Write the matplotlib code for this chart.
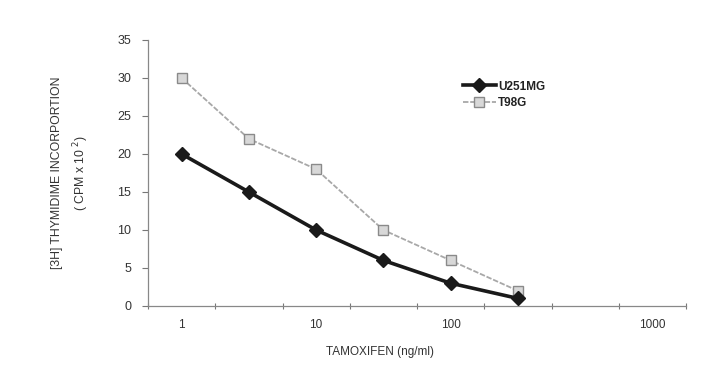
import matplotlib
matplotlib.use("Agg")
import matplotlib.pyplot as plt
from matplotlib.lines import Line2D

plt.rcParams['font.family'] = ['Liberation Sans', 'DejaVu Sans']

categories = ["1", "", "10", "", "100", "", "", "1000"]
u251mg = [20, 15, 10, 6, 3, 1]
t98g = [30, 22, 18, 10, 6, 2]
yticks = [0, 5, 10, 15, 20, 25, 30, 35]

fig = plt.figure(figsize=(7.09, 3.75), dpi=100)
fig.patch.set_facecolor('white')
ax = fig.add_axes([148/709, 1-306/375, (686-148)/709, (306-40)/375])

xs_u = list(range(len(u251mg)))
xs_t = list(range(len(t98g)))

ax.plot(xs_t, t98g, color='#a8a8a8', lw=1.3, ls=(0, (3, 1)), marker='s', ms=7,
        mfc='#d8d8d8', mec='#8a8a8a', mew=1.0, label='T98G', zorder=2)
ax.plot(xs_u, u251mg, color='#1a1a1a', lw=2.6, marker='D', ms=7.5,
        mfc='#1a1a1a', mec='#1a1a1a', label='U251MG', zorder=3)

ax.set_xlim(-0.5, len(categories) - 0.5)
ax.set_ylim(0, 35)
ax.set_yticks(yticks)
ax.set_xticks(range(len(categories)))
ax.set_xticklabels(categories)
ax.set_xticks([i + 0.5 for i in range(-1, len(categories))], minor=True)
ax.tick_params(axis='x', which='major', length=0, pad=9, labelsize=8.5, colors='#333333')
ax.tick_params(axis='x', which='minor', length=4, width=0.8, direction='inout', color='#777777')
ax.tick_params(axis='y', length=4, width=0.8, direction='out', color='#777777', labelsize=9, colors='#333333', pad=8)

for s in ['top', 'right']:
    ax.spines[s].set_visible(False)
for s in ['left', 'bottom']:
    ax.spines[s].set_color('#888888')
    ax.spines[s].set_linewidth(0.9)

ax.set_xlabel('TAMOXIFEN (ng/ml)', fontsize=8.5, color='#333333')
ax.xaxis.set_label_coords((380-148)/538, -0.15)
ax.set_ylabel('[3H] THYMIDIME INCORPORTION\n( CPM x 10 $^{2}$)', fontsize=8.8,
              color='#333333', linespacing=1.6)
ax.yaxis.set_label_coords(-(148-91)/538, 0.5)

handles = [
    Line2D([], [], color='#1a1a1a', lw=2.6, marker='D', ms=7.5, mfc='#1a1a1a', mec='#1a1a1a'),
    Line2D([], [], color='#a8a8a8', lw=1.3, ls=(0, (3, 1)), marker='s', ms=7,
           mfc='#d8d8d8', mec='#8a8a8a'),
]
leg = ax.legend(handles, ['U251MG', 'T98G'], loc='upper left',
                bbox_to_anchor=(452/709, 1-70/375), bbox_transform=fig.transFigure,
                frameon=False, fontsize=8.5, handlelength=2.8, handletextpad=0.2,
                labelspacing=0.35)
for t in leg.get_texts():
    t.set_color('#222222')
    t.set_fontweight('bold')

fig.savefig('out.png', dpi=100, facecolor='white')
